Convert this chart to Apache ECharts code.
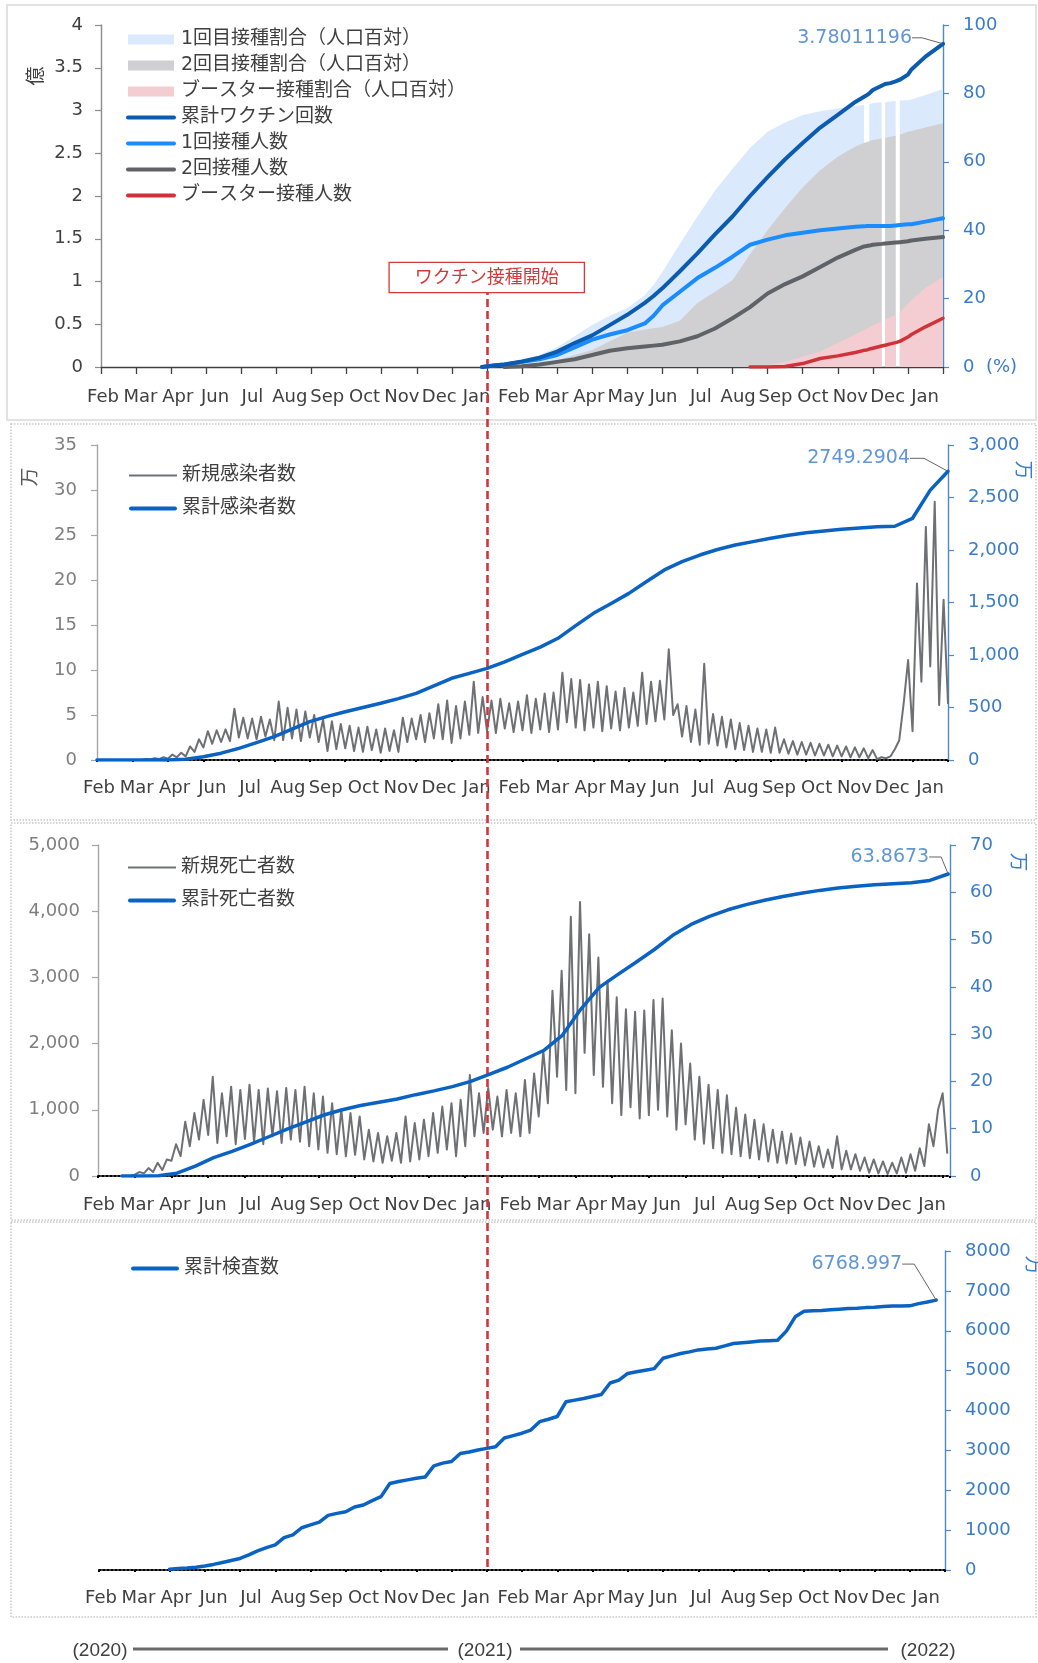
<!DOCTYPE html>
<html><head><meta charset="utf-8">
<script src="https://cdn.jsdelivr.net/npm/echarts/dist/echarts.min.js"></script>
<style>html,body{margin:0;padding:0;background:#fff}#c{width:1038px;height:1663px}</style>
</head><body><div id="c"></div>
<script>
// ---------- DATA ----------
const MONTHS = ['Feb','Mar','Apr','Jun','Jul','Aug','Sep','Oct','Nov','Dec','Jan','Feb','Mar','Apr','May','Jun','Jul','Aug','Sep','Oct','Nov','Dec','Jan'];
const VACCINE_START = 11; // month index of the vaccination start line

// Panel 1: vaccination (x = month index from Feb 2020 tick)
const vaxX = [10.86, 11.25, 11.5, 12, 12.5, 13, 13.5, 14, 14.5, 15, 15.5, 15.75, 16, 16.5, 17, 17.5, 18, 18.5, 19, 19.5, 20, 20.5, 21, 21.5, 21.75, 21.83, 21.9, 22, 22.25, 22.3, 22.35, 22.5, 22.65, 22.7, 22.77, 23, 23.1, 23.5, 24];
const cumDoses = [0, 0.02, 0.03, 0.065, 0.11, 0.18, 0.28, 0.37, 0.49, 0.61, 0.75, 0.83, 0.92, 1.12, 1.33, 1.55, 1.76, 2.0, 2.22, 2.43, 2.62, 2.80, 2.95, 3.10, 3.16, 3.18, 3.20, 3.24, 3.29, 3.30, 3.31, 3.32, 3.34, 3.35, 3.36, 3.42, 3.48, 3.63, 3.78011196];
const dose1People = [0, 0.02, 0.03, 0.06, 0.09, 0.14, 0.23, 0.32, 0.38, 0.43, 0.51, 0.60, 0.72, 0.88, 1.04, 1.16, 1.29, 1.43, 1.49, 1.54, 1.57, 1.60, 1.62, 1.64, 1.645, 1.65, 1.65, 1.65, 1.65, 1.65, 1.65, 1.65, 1.655, 1.66, 1.66, 1.67, 1.67, 1.70, 1.74];
const dose2People = [null, null, 0, 0.01, 0.03, 0.06, 0.09, 0.14, 0.19, 0.22, 0.24, 0.25, 0.26, 0.30, 0.36, 0.45, 0.57, 0.70, 0.86, 0.97, 1.06, 1.17, 1.28, 1.37, 1.41, 1.415, 1.42, 1.43, 1.44, 1.44, 1.445, 1.45, 1.455, 1.46, 1.46, 1.47, 1.48, 1.50, 1.52];
const boosterPeople = [null, null, null, null, null, null, null, null, null, null, null, null, null, null, null, null, null, 0, 0, 0.005, 0.04, 0.10, 0.13, 0.17, 0.195, 0.20, 0.21, 0.22, 0.245, 0.25, 0.255, 0.27, 0.285, 0.29, 0.30, 0.35, 0.38, 0.47, 0.57];
const dose1Pct = [0, 0.5, 1, 2, 3.5, 5.8, 9, 12.3, 15, 17.2, 21, 24, 27.8, 36, 44, 51.5, 58, 64, 68.8, 71.5, 73.7, 74.8, 75.6, 76.3, 76.6, null, 76.9, 77.2, 77.4, null, 77.5, 77.6, 77.8, null, 77.9, 78, 78.2, 79.5, 81.3];
const dose2Pct = [null, null, 0, 0.5, 1, 2, 3.5, 5, 7.5, 10, 11, 11.3, 11.7, 13.5, 18.7, 22, 25.4, 33, 40, 46.5, 52.5, 57.5, 61.5, 64.5, 65.5, 65.8, 66, 66.4, 66.8, null, 67, 67.3, 67.6, null, 67.9, 68.8, 69, 70, 71.3];
const boosterPct = [null, null, null, null, null, null, null, null, null, null, null, null, null, null, null, null, null, 0, 0.5, 1.5, 3, 4.5, 7, 9.5, 10.8, 11.2, 11.6, 12.2, 13.4, null, 13.9, 14.6, 15.3, null, 16, 18.5, 19.5, 23.2, 26.3];

// Panel 2: infections (万). new: start 0, step 0.125 month; cumulative: start 0, step 0.5
const newCases = [0,0,0,0,0,0,0,0,0,0,0,
 0.1,0.05,0.2,0.1,0.3,0.15,0.6,0.3,0.8,0.4,
 1.5,0.9,2.3,1.4,3.2,1.8,3.3,2.0,3.4,2.1,
 5.7,2.5,4.7,2.4,4.6,2.3,4.8,2.6,4.5,2.2,
 6.5,2.2,5.8,2.4,5.6,2.1,5.4,2.5,5.0,2.0,
 4.5,1.0,4.3,1.2,4.0,1.3,3.8,1.0,3.6,0.9,
 3.7,1.1,3.4,0.8,3.5,1.0,3.3,0.9,4.7,2.0,
 4.6,2.3,5.0,2.0,5.2,2.4,6.2,2.3,6.6,1.9,
 6.0,2.4,6.5,2.8,8.7,3.0,7.0,3.2,6.6,3.0,
 6.8,3.5,6.3,3.1,6.5,3.3,7.2,3.0,6.8,3.4,
 7.4,3.1,7.5,3.4,9.7,4.2,9.0,3.6,8.9,3.3,
 8.4,3.6,8.7,3.2,8.2,3.5,7.6,3.3,8.0,3.6,
 7.5,3.8,9.7,4.0,8.7,4.3,8.8,4.5,12.3,5.0,
 6.2,2.6,6.0,2.0,5.6,1.7,10.7,1.8,5.1,1.6,
 4.8,1.4,4.5,1.2,4.1,1.1,3.8,0.9,3.5,0.9,
 3.4,0.8,3.6,0.8,2.3,0.7,2.1,0.6,2.0,0.6,
 1.9,0.5,1.8,0.5,1.7,0.4,1.6,0.4,1.5,0.3,
 1.4,0.3,1.3,0.2,1.1,0.1,0.3,0.2,0.4,1.2,
 2.2,6.3,11.1,3.2,19.6,8.7,25.9,10.4,28.7,6.1,
 17.8,6.3];
const cumCases = [0,0,0,0,1,8,31,65,111,165,222,295,365,415,460,500,540,585,635,705,778,825,873,935,1005,1075,1159,1280,1397,1490,1587,1700,1810,1890,1952,2005,2048,2080,2111,2140,2165,2182,2197,2210,2222,2226,2302,2570,2749.2904];

// Panel 3: deaths. new: start 0.625, step 0.125; cumulative (万): start 0.65, step 0.5
const newDeaths = [0,0,0,20,60,40,120,60,200,90,
 250,230,480,300,820,450,950,550,1150,620,
 1500,500,1250,600,1350,480,1300,560,1380,520,
 1300,480,1320,600,1280,500,1330,550,1300,520,
 1350,450,1250,400,1200,350,1100,330,1000,300,
 950,320,900,250,700,220,650,200,600,230,
 650,200,900,220,800,250,850,300,950,350,
 1050,400,1100,300,1150,450,1525,600,1250,650,
 1330,700,1200,600,1300,650,1250,600,1450,650,
 1550,900,1900,1100,2800,1500,3100,1300,3915,1250,
 4140,1860,3650,1525,3300,1350,2950,1100,2700,920,
 2520,1040,2480,870,2500,920,2660,1000,2680,900,
 2200,700,2000,780,1700,550,1500,490,1380,420,
 1300,350,1220,330,1030,300,930,270,850,250,
 780,220,700,200,670,190,640,180,580,160,
 520,140,450,130,400,120,600,100,380,100,
 330,80,280,50,250,40,220,30,200,40,
 280,50,330,80,420,150,780,450,1000,1250,
 350];
const cumDeaths = [0,0,0.05,0.6,2.1,3.9,5.2,6.7,8.3,9.9,11.4,12.9,14.0,14.9,15.6,16.3,17.2,18.0,18.9,20.0,21.5,23.0,24.8,26.6,29.8,35.3,39.9,42.6,45.2,47.9,50.9,53.2,54.9,56.3,57.4,58.3,59.1,59.8,60.4,60.9,61.3,61.6,61.8,62.0,62.5,63.8673];

// Panel 4: cumulative tests (万), start 2.0, step 0.25
const cumTests = [20,35,50,70,100,140,190,240,290,380,480,560,630,810,880,1060,1130,1200,1370,1420,1460,1580,1630,1740,1840,2170,2220,2260,2300,2330,2610,2680,2720,2920,2960,3010,3050,3090,3310,3370,3430,3510,3720,3780,3850,4220,4260,4300,4350,4400,4690,4760,4930,4970,5010,5050,5310,5370,5430,5470,5520,5540,5560,5620,5680,5700,5720,5740,5750,5760,5990,6350,6490,6500,6510,6525,6540,6555,6565,6580,6590,6610,6620,6620,6625,6680,6720,6768.997];

const YEARS = ['(2020)','(2021)','(2022)'];

// ---------- HELPERS ----------
const FONT = "'DejaVu Sans','Noto Sans CJK JP',sans-serif";
const pairs = (xs, vals) => xs.map((x, i) => [x, vals[i] == null ? '-' : vals[i]]);
const seq = (start, step, vals) => vals.map((v, i) => [+(start + i * step).toFixed(4), v == null ? '-' : v]);
const last = a => a[a.length - 1];
const comma = v => String(v).replace(/\B(?=(\d{3})+(?!\d))/g, ',');

const C = {
  area1: '#dae9fb', area2: '#d0d0d2', area3: '#f3cdd2',
  cum: '#0b5cb0', d1: '#1a8cff', d2: '#5f6368', boost: '#cf333a',
  gray: '#6e7074', blue: '#0a62c2', axisBlue: '#4a89cc', lblBlue: '#3a7cc8',
  dark: '#404040', mid: '#7f7f7f', red: '#d6343c'
};

const AREA_ICON = 'path://M0,0H0.01V0.01H0Z M49.99,10.99H50V11H49.99Z M2,0.5H48V10.5H2Z';
const LINE_ICON = 'path://M2,3.5H46A2,2 0 0 1 46,7.5H2A2,2 0 0 1 2,3.5Z';
const LINE_ICON50 = 'path://M2,3.5H48A2,2 0 0 1 48,7.5H2A2,2 0 0 1 2,3.5Z';
const THIN_ICON = 'path://M0,4.5H48V6.5H0Z';

// grids
const G = [
  {left: 101, top: 25, width: 842, height: 342},
  {left: 97, top: 445, width: 851, height: 315},
  {left: 98, top: 845, width: 852, height: 331},
  {left: 99, top: 1251, width: 846, height: 319}
];
const LBL = [
  {left: 103, width: 822, bottom: 367, margin: 21},
  {left: 99, width: 831, bottom: 760, margin: 19},
  {left: 99, width: 833, bottom: 1176, margin: 20},
  {left: 101, width: 825, bottom: 1570, margin: 19}
];
const XMAX = [24, 24, 23.2, 24];

const grids = G.map(g => Object.assign({outerBoundsMode: 'none', containLabel: false}, g));
LBL.forEach(l => grids.push({left: l.left, width: l.width, top: l.bottom - 1, height: 1, outerBoundsMode: 'none', containLabel: false}));
grids.push({left: 99, width: 846, top: 292, height: 1275, outerBoundsMode: 'none', containLabel: false});

const xAxes = [];
G.forEach((g, i) => {
  const solid = i === 0;
  xAxes.push({
    type: 'value', gridIndex: i, min: 0, max: XMAX[i], interval: 1,
    axisLine: {show: true, onZero: false, lineStyle: solid ? {color: C.dark, width: 1.3} : {color: '#000', width: 2, type: 'dotted'}},
    axisTick: {show: true, length: solid ? 7 : 4, lineStyle: solid ? {color: C.dark, width: 1.3} : {color: '#000', width: 2, type: 'dotted'}},
    axisLabel: {show: false}, splitLine: {show: false}
  });
});
LBL.forEach((l, i) => {
  xAxes.push({
    type: 'category', gridIndex: 4 + i, data: MONTHS, boundaryGap: false,
    axisLine: {show: false}, axisTick: {show: false}, splitLine: {show: false},
    axisLabel: {show: true, interval: 0, hideOverlap: false, margin: l.margin, color: C.dark, fontSize: 18, fontFamily: FONT}
  });
});
xAxes.push({type: 'value', gridIndex: 8, min: 0, max: 24, show: false, splitLine: {show: false}});

const yAx = (gridIndex, position, min, max, interval, lineColor, labelColor, margin, formatter) => ({
  type: 'value', gridIndex, position, min, max, interval, splitLine: {show: false},
  axisLine: {show: true, onZero: false, lineStyle: {color: lineColor, width: 1.4}},
  axisTick: {show: true, length: 6, lineStyle: {color: lineColor, width: 1.2}},
  axisLabel: {margin, color: labelColor, fontSize: 18, fontFamily: FONT, formatter}
});

const yAxes = [
  yAx(0, 'left', 0, 4, 0.5, '#8c8c8c', C.dark, 18, v => String(v)),
  yAx(0, 'right', 0, 100, 20, C.axisBlue, C.lblBlue, 20, v => v === 0 ? '0  (%)' : String(v)),
  yAx(1, 'left', 0, 35, 5, '#a6a6a6', C.mid, 20, v => String(v)),
  yAx(1, 'right', 0, 3000, 500, C.axisBlue, C.lblBlue, 20, comma),
  yAx(2, 'left', 0, 5000, 1000, '#a6a6a6', C.mid, 18, comma),
  yAx(2, 'right', 0, 70, 10, C.axisBlue, C.lblBlue, 20, v => String(v)),
  yAx(3, 'right', 0, 8000, 1000, C.axisBlue, C.lblBlue, 20, v => String(v))
];
for (let i = 0; i < 4; i++) yAxes.push({type: 'value', gridIndex: 4 + i, min: 0, max: 1, show: false, splitLine: {show: false}});
yAxes.push({type: 'value', gridIndex: 8, min: 0, max: 1, show: false, splitLine: {show: false}});

const area = (name, vals, color, z) => ({
  name, type: 'line', xAxisIndex: 0, yAxisIndex: 1, data: pairs(vaxX, vals), symbol: 'none',
  connectNulls: false, lineStyle: {width: 0, color}, itemStyle: {color}, areaStyle: {color, opacity: 1}, z, silent: true
});
const line = (name, xi, yi, data, color, width, z) => ({
  name, type: 'line', xAxisIndex: xi, yAxisIndex: yi, data, symbol: 'none', connectNulls: false,
  lineStyle: {width, color, cap: 'round', join: 'round'}, itemStyle: {color}, z, silent: true
});
const endLabel = (xi, yi, pt, dx, dy, len) => ({
  type: 'scatter', xAxisIndex: xi, yAxisIndex: yi, data: [pt], symbolSize: 2, silent: true, z: 12,
  itemStyle: {color: 'rgba(0,0,0,0)'},
  label: {show: true, position: 'left', distance: 5, formatter: p => String(p.value[1]), color: C.lblBlue, fontSize: 19, fontFamily: FONT},
  labelLine: {show: true, length2: len, lineStyle: {color: '#666', width: 1}},
  labelLayout: {dx, dy}
});

const series = [
  area('1回目接種割合（人口百対）', dose1Pct, C.area1, 1),
  area('2回目接種割合（人口百対）', dose2Pct, C.area2, 2),
  area('ブースター接種割合（人口百対）', boosterPct, C.area3, 3),
  line('累計ワクチン回数', 0, 0, pairs(vaxX, cumDoses), C.cum, 4, 6),
  line('1回接種人数', 0, 0, pairs(vaxX, dose1People), C.d1, 4, 5),
  line('2回接種人数', 0, 0, pairs(vaxX, dose2People), C.d2, 4, 5),
  line('ブースター接種人数', 0, 0, pairs(vaxX, boosterPeople), C.boost, 3.5, 5),
  endLabel(0, 0, [last(vaxX), last(cumDoses)], -25, -6, 10),

  line('新規感染者数', 1, 2, seq(0, 0.125, newCases), C.gray, 2, 4),
  line('累計感染者数', 1, 3, seq(0, 0.5, cumCases), C.blue, 3.5, 5),
  endLabel(1, 3, [(cumCases.length - 1) * 0.5, last(cumCases)], -32, -13, 14),

  line('新規死亡者数', 2, 4, seq(0.625, 0.125, newDeaths), C.gray, 2, 4),
  line('累計死亡者数', 2, 5, seq(0.65, 0.5, cumDeaths), C.blue, 3.5, 5),
  endLabel(2, 5, [+(0.65 + (cumDeaths.length - 1) * 0.5).toFixed(3), last(cumDeaths)], -13, -17, 12),

  line('累計検査数', 3, 6, seq(2.0, 0.25, cumTests), C.blue, 3.5, 5),
  endLabel(3, 6, [2.0 + (cumTests.length - 1) * 0.25, last(cumTests)], -28, -36, 12),

  {
    type: 'line', xAxisIndex: 8, yAxisIndex: 11, data: [], silent: true, z: 20,
    markLine: {
      silent: true, animation: false, symbol: ['none', 'none'],
      lineStyle: {color: C.red, width: 2.6, type: [8, 4]},
      label: {show: true, position: 'end', distance: 0, formatter: 'ワクチン接種開始', color: '#d23a3a', fontSize: 18, fontFamily: FONT,
        backgroundColor: '#fff', borderColor: '#d23a3a', borderWidth: 1.3, padding: [6, 25, 5, 25]},
      data: [{xAxis: VACCINE_START}]
    }
  }
];

const legendBase = {orient: 'vertical', padding: 0, selectedMode: false, itemHeight: 11,
  textStyle: {fontSize: 19, color: C.dark, fontFamily: FONT}};
const legends = [
  Object.assign({}, legendBase, {left: 126, top: 30, itemWidth: 50, itemGap: 7, data: [
    {name: '1回目接種割合（人口百対）', icon: AREA_ICON},
    {name: '2回目接種割合（人口百対）', icon: AREA_ICON},
    {name: 'ブースター接種割合（人口百対）', icon: AREA_ICON},
    {name: '累計ワクチン回数', icon: LINE_ICON50},
    {name: '1回接種人数', icon: LINE_ICON50},
    {name: '2回接種人数', icon: LINE_ICON50},
    {name: 'ブースター接種人数', icon: LINE_ICON50}
  ]}),
  Object.assign({}, legendBase, {left: 129, top: 466, itemWidth: 48, itemGap: 14, data: [
    {name: '新規感染者数', icon: THIN_ICON}, {name: '累計感染者数', icon: LINE_ICON}]}),
  Object.assign({}, legendBase, {left: 128, top: 858, itemWidth: 48, itemGap: 14, data: [
    {name: '新規死亡者数', icon: THIN_ICON}, {name: '累計死亡者数', icon: LINE_ICON}]}),
  Object.assign({}, legendBase, {left: 131, top: 1259, itemWidth: 48, itemGap: 14, data: [
    {name: '累計検査数', icon: LINE_ICON}]})
];

const txt = (text, x, y, color, rot, font) => ({
  type: 'text', x, y, rotation: rot || 0, silent: true, z: 30,
  style: {text, fill: color, font: font || `19px ${FONT}`, textAlign: 'center', textVerticalAlign: 'middle', align: 'center', verticalAlign: 'middle'}
});
const frame = (x, y, w, h, dotted) => ({
  type: 'rect', silent: true, z: -10, shape: {x, y, width: w, height: h},
  style: {fill: 'none', stroke: dotted ? '#c8c8c8' : '#e2e2e2', lineWidth: dotted ? 1.5 : 2, lineDash: dotted ? [1.5, 1.5] : null}
});
const hline = (x1, x2, y) => ({type: 'line', silent: true, shape: {x1, y1: y, x2, y2: y}, style: {stroke: '#6a6a6a', lineWidth: 3}});

const graphics = [
  frame(7, 5, 1029, 415, false),
  frame(11, 424, 1025, 396, true),
  frame(11, 823, 1025, 397, true),
  frame(11, 1222, 1025, 395, true),
  txt('億', 37, 76, C.dark, Math.PI / 2),
  txt('万', 31, 477, '#595959', Math.PI / 2),
  txt('万', 1022, 470, C.lblBlue, -Math.PI / 2),
  txt('万', 1017, 862, C.lblBlue, -Math.PI / 2),
  txt('万', 1032, 1265, C.lblBlue, -Math.PI / 2),
  txt(YEARS[0], 100, 1651, C.dark, 0, "19px 'Liberation Sans', sans-serif"),
  txt(YEARS[1], 485, 1651, C.dark, 0, "19px 'Liberation Sans', sans-serif"),
  txt(YEARS[2], 928, 1651, C.dark, 0, "19px 'Liberation Sans', sans-serif"),
  hline(133, 448, 1649),
  hline(520, 888, 1649)
];

const chart = echarts.init(document.getElementById('c'), null, {renderer: 'canvas'});
chart.setOption({
  animation: false,
  backgroundColor: '#fff',
  textStyle: {fontFamily: FONT},
  tooltip: {show: false},
  grid: grids,
  xAxis: xAxes,
  yAxis: yAxes,
  legend: legends,
  series,
  graphic: {elements: graphics}
});
</script></body></html>
